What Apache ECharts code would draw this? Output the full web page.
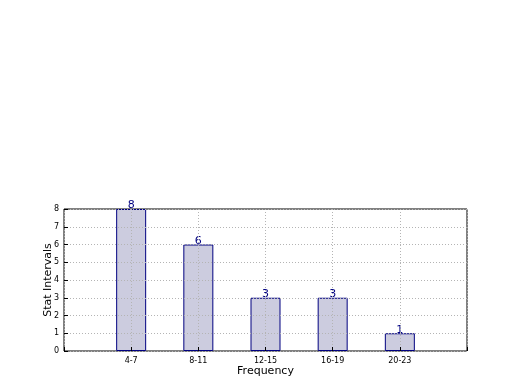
<!DOCTYPE html>
<html><head><meta charset="utf-8">
<script src="https://cdn.jsdelivr.net/npm/echarts@6/dist/echarts.min.js"></script>
<style>html,body{margin:0;padding:0;background:#fff}#c{width:520px;height:390px}</style>
</head><body><div id="c"></div>
<script>
const categories = ['4-7', '8-11', '12-15', '16-19', '20-23'];
const values = [8, 6, 3, 3, 1];
const yTicks = [0, 1, 2, 3, 4, 5, 6, 7, 8];

const padded = [''].concat(categories, ['']);
const data = [null].concat(values, [null]);
const chart = echarts.init(document.getElementById('c'));
const font = 'DejaVu Sans';
chart.setOption({
  animation: false,
  textStyle: {fontFamily: font},
  grid: {left: 64, right: 53, top: 209, bottom: 39, show: true, borderColor: '#000', borderWidth: 1, containLabel: false, z: 0},
  xAxis: {
    type: 'category', data: padded, boundaryGap: false, z: 5,
    name: 'Frequency', nameLocation: 'middle', nameGap: 15, nameMoveOverlap: false,
    nameTextStyle: {fontSize: 11, color: '#000', fontFamily: font},
    axisLine: {show: false},
    axisTick: {show: true, inside: true, length: 4, lineStyle: {color: '#000'}},
    axisLabel: {fontSize: 8, color: '#000', margin: 6, fontFamily: font, interval: 0},
    splitLine: {show: true, lineStyle: {color: '#b4b4b4', type: [1, 2], width: 1}}
  },
  yAxis: {
    type: 'value', min: yTicks[0], max: yTicks[yTicks.length - 1], interval: 1, z: 5,
    name: 'Stat Intervals', nameLocation: 'middle', nameGap: 10, nameRotate: 90, nameMoveOverlap: false,
    nameTextStyle: {fontSize: 11, color: '#000', fontFamily: font},
    axisLine: {show: false},
    axisTick: {show: true, inside: true, length: 4, lineStyle: {color: '#000'}},
    axisLabel: {fontSize: 8, color: '#000', margin: 5, fontFamily: font},
    splitLine: {show: true, lineStyle: {color: '#b4b4b4', type: [1, 2], width: 1}}
  },
  series: [{
    type: 'bar', data: data, barWidth: 30, z: 1,
    itemStyle: {color: '#ccccdf', borderColor: '#000080', borderWidth: 1},
    label: {show: true, position: 'top', distance: -2, color: '#000080', fontSize: 11, fontFamily: font}
  }]
});
</script></body></html>
